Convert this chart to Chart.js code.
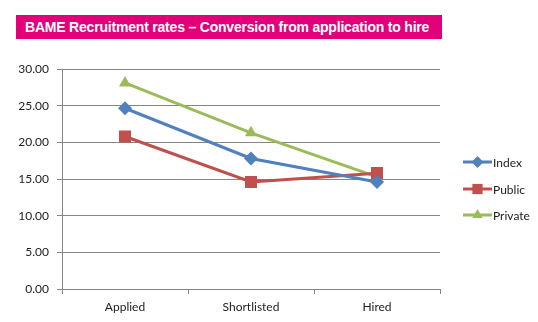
<!DOCTYPE html>
<html>
<head>
<meta charset="utf-8">
<script src="https://cdn.jsdelivr.net/npm/chart.js@4/dist/chart.umd.min.js"></script>
<style>
  html, body { margin: 0; padding: 0; background: #fff; }
  #wrap { position: relative; width: 538px; height: 322px; }
  #title {
    position: absolute; left: 16px; top: 15px; width: 426px; height: 24px;
    background: #e2007a; color: #fff; font: bold 14px "Liberation Sans", Arial, sans-serif;
    line-height: 24px; padding-left: 9px; box-sizing: border-box; letter-spacing: -0.2px;
    white-space: nowrap;
  }
</style>
</head>
<body>
<div id="wrap">
  <canvas id="chart" width="538" height="322"></canvas>
  <div id="title">BAME Recruitment rates – Conversion from application to hire</div>
</div>
<script>
// chart data
const categories = ["Applied", "Shortlisted", "Hired"];
const indexRates = [24.65, 17.8, 14.6];
const publicRates = [20.8, 14.6, 15.8];
const privateRates = [28.1, 21.3, 15.3];
const seriesNames = ["Index", "Public", "Private"];
const yTicks = [0, 5, 10, 15, 20, 25, 30];

const colors = ["#4f81bd", "#c0504d", "#9bbb59"];
const shapes = ["rectRot", "rect", "triangle"];
const sizes = [7, 8.5, 7];

function drawShape(ctx, shape, x, y, r) {
    ctx.beginPath();
    if (shape === "rectRot") {
        ctx.moveTo(x, y - r); ctx.lineTo(x + r, y); ctx.lineTo(x, y + r); ctx.lineTo(x - r, y);
    } else if (shape === "rect") {
        const s = r * Math.SQRT1_2;
        ctx.rect(x - s, y - s, 2 * s, 2 * s);
    } else {
        ctx.moveTo(x, y - r); ctx.lineTo(x + r * 0.87, y + r * 0.5); ctx.lineTo(x - r * 0.87, y + r * 0.5);
    }
    ctx.closePath();
    ctx.fill();
}

// legend on the right, line + marker + label like the office chart
const sideLegend = {
    id: "sideLegend",
    afterDraw(chart) {
        const ctx = chart.ctx;
        const rows = [162, 189, 215];
        ctx.save();
        chart.data.datasets.forEach(function(ds, i) {
            const y = rows[i];
            ctx.strokeStyle = ds.borderColor;
            ctx.fillStyle = ds.borderColor;
            ctx.lineWidth = 3;
            ctx.beginPath(); ctx.moveTo(463, y); ctx.lineTo(492, y); ctx.stroke();
            drawShape(ctx, shapes[i], 477.5, y, sizes[i] * 0.85);
            ctx.fillStyle = "#222";
            ctx.font = "12px Lato, sans-serif";
            ctx.textBaseline = "middle";
            ctx.fillText(ds.label, 493, y + 1);
        });
        ctx.restore();
    }
};

const datasets = [indexRates, publicRates, privateRates].map(function(vals, i) {
    return {
        label: seriesNames[i],
        data: vals,
        borderColor: colors[i],
        backgroundColor: colors[i],
        borderWidth: 3,
        pointStyle: shapes[i],
        pointRadius: sizes[i],
        pointBorderWidth: 0,
        tension: 0
    };
});

new Chart("chart", {
    type: "line",
    data: { labels: categories, datasets: datasets },
    options: {
        responsive: false,
        animation: false,
        layout: { padding: { top: 69, right: 98, left: 0, bottom: 0 } },
        plugins: { legend: { display: false }, title: { display: false }, tooltip: { enabled: false } },
        scales: {
            x: {
                offset: true,
                grid: { offset: true, drawOnChartArea: false, color: "#868686", tickLength: 5 },
                border: { color: "#868686" },
                ticks: { color: "#222", font: { family: "Lato", size: 12 }, padding: 6 },
                afterFit: function(s) { s.height = 33; }
            },
            y: {
                min: 0, max: 30,
                afterBuildTicks: function(s) { s.ticks = yTicks.map(function(v) { return { value: v }; }); },
                grid: { color: "#868686", tickLength: 5 },
                border: { color: "#868686" },
                ticks: {
                    color: "#222", font: { family: "Lato", size: 12 }, padding: 8,
                    callback: function(v) { return v.toFixed(2); }
                },
                afterFit: function(s) { s.width = 62; }
            }
        }
    },
    plugins: [sideLegend]
});
</script>
</body>
</html>
